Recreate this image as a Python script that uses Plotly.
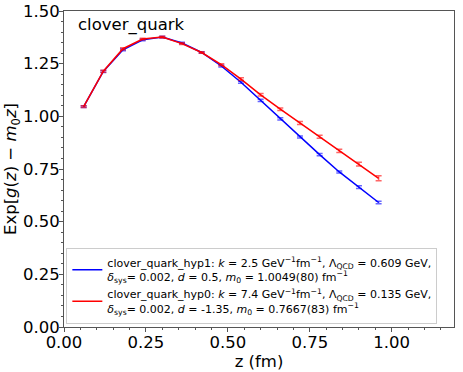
import plotly.graph_objects as go

z = [0.06, 0.12, 0.18, 0.24, 0.30, 0.36, 0.42, 0.48,
     0.54, 0.60, 0.66, 0.72, 0.78, 0.84, 0.90, 0.96]

hyp1 = [1.046, 1.213, 1.316, 1.363, 1.376, 1.348, 1.303, 1.239,
        1.162, 1.076, 0.988, 0.902, 0.818, 0.736, 0.664, 0.591]
hyp1_err = [0.004, 0.005, 0.005, 0.004, 0.004, 0.004, 0.004, 0.005,
            0.005, 0.005, 0.005, 0.005, 0.005, 0.005, 0.006, 0.006]

hyp0 = [1.046, 1.214, 1.321, 1.367, 1.376, 1.345, 1.303, 1.245,
        1.177, 1.102, 1.034, 0.968, 0.903, 0.836, 0.773, 0.706]
hyp0_err = [0.004, 0.005, 0.005, 0.004, 0.004, 0.004, 0.004, 0.005,
            0.006, 0.006, 0.006, 0.007, 0.007, 0.008, 0.009, 0.012]

name1 = ("clover_quark_hyp1: <i>k</i> = 2.5 GeV<sup>−1</sup>fm<sup>−1</sup>, "
         "Λ<sub>QCD</sub> = 0.609 GeV,<br><i>δ</i><sub>sys</sub>= 0.002, "
         "<i>d</i> = 0.5, <i>m</i><sub>0</sub> = 1.0049(80) fm<sup>−1</sup>")
name0 = ("clover_quark_hyp0: <i>k</i> = 7.4 GeV<sup>−1</sup>fm<sup>−1</sup>, "
         "Λ<sub>QCD</sub> = 0.135 GeV,<br><i>δ</i><sub>sys</sub>= 0.002, "
         "<i>d</i> = -1.35, <i>m</i><sub>0</sub> = 0.7667(83) fm<sup>−1</sup>")

fig = go.Figure()
fig.add_trace(go.Scatter(
    x=z, y=hyp1, mode='lines', name=name1,
    line=dict(color='blue', width=1.5),
    error_y=dict(type='data', array=hyp1_err, color='rgba(0,0,255,0.6)',
                 thickness=1.5, width=3)
))
fig.add_trace(go.Scatter(
    x=z, y=hyp0, mode='lines', name=name0,
    line=dict(color='red', width=1.5),
    error_y=dict(type='data', array=hyp0_err, color='rgba(255,0,0,0.6)',
                 thickness=1.5, width=3)
))

axis_style = dict(
    showline=True, linecolor='#555555', linewidth=1, mirror=True,
    ticks='outside', ticklen=4, tickcolor='#555555', showgrid=False,
    zeroline=False, tickfont=dict(size=16.5, color='black'), automargin=False,
    ticklabelstandoff=-4,
    minor=dict(ticks='outside', ticklen=2, tickcolor='#555555', dtick=0.05),
)

fig.update_xaxes(range=[0, 1.19], tick0=0, dtick=0.25, tickformat='.2f',
                 title=dict(text='z (fm)', font=dict(size=16.5, color='black'),
                            standoff=0),
                 **axis_style)
fig.update_yaxes(range=[0, 1.5], tick0=0, dtick=0.25, tickformat='.2f',
                 title=dict(text='Exp[<i>g</i>(<i>z</i>) − <i>m</i><sub>0</sub><i>z</i>]',
                            font=dict(size=16.5, color='black'), standoff=1),
                 **axis_style)

fig.add_annotation(text='clover_quark', xref='paper', yref='paper',
                   x=0.03, y=0.995, xanchor='left', yanchor='top',
                   showarrow=False, font=dict(size=16.5, color='black'))

fig.update_layout(
    width=463, height=372,
    margin=dict(l=64, r=9, t=11, b=45),
    paper_bgcolor='white', plot_bgcolor='white',
    font=dict(family='DejaVu Sans', color='black'),
    legend=dict(x=0.006, y=0.01, xanchor='left', yanchor='bottom',
                bgcolor='rgba(255,255,255,0.8)', bordercolor='#cccccc',
                borderwidth=1, font=dict(size=11), itemwidth=30,
                tracegroupgap=0),
    showlegend=True,
)

# drop the page's default body margin so the figure sits at the window corner
fig.write_html("out.html", config={'displayModeBar': False},
               post_script="document.body.style.margin='0';")
